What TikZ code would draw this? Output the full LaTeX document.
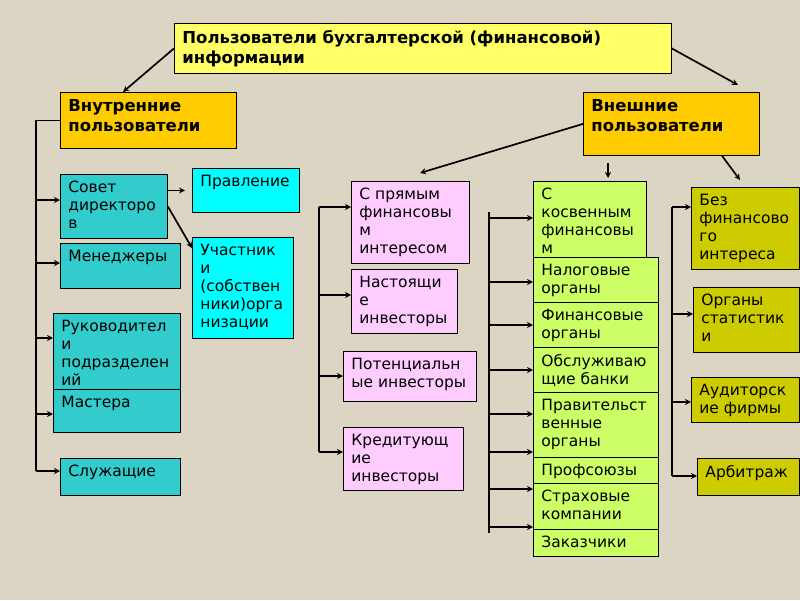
\documentclass[tikz,border=0pt]{standalone}
\usepackage{fontspec}
\setmainfont{DejaVu Sans}
\usetikzlibrary{arrows.meta, positioning}

\definecolor{bgbeige}{RGB}{221,213,196}
\definecolor{titleyellow}{RGB}{255,255,102}
\definecolor{usergold}{RGB}{255,204,0}
\definecolor{innerteal}{RGB}{51,204,204}
\definecolor{boardcyan}{RGB}{0,255,255}
\definecolor{directpink}{RGB}{255,204,255}
\definecolor{indirectgreen}{RGB}{204,255,102}
\definecolor{noolive}{RGB}{204,204,0}

% text block of a box: width, height, lines
\newcommand\cell[3]{\parbox[t][#2pt][t]{#1pt}{\raggedright #3}}

\tikzset{
  box/.style={draw, line width=0.8pt, anchor=north west, inner xsep=8pt, inner ysep=7pt,
    font=\fontsize{15.5}{18}\selectfont},
  head/.style={box, font=\fontsize{16.5}{20}\selectfont\bfseries},
  arr/.style={-{Stealth[length=6pt,width=6pt]}, line width=1.7pt},
  trunk/.style={line width=1.7pt}
}

\begin{document}
\begin{tikzpicture}[x=1pt, y=-1pt]
    \fill[bgbeige] (0,0) rectangle (800,600);
    \useasboundingbox (0,0) rectangle (800,600);

    % top level
    \node[head, fill=titleyellow] (title) at (174,23) {\cell{481}{36}{Пользователи бухгалтерской (финансовой)\\информации}};
    \node[head, fill=usergold] (vnutr) at (60,92) {\cell{160}{42}{Внутренние\\пользователи}};
    \node[head, fill=usergold] (vneshn) at (583,92) {\cell{160}{49}{Внешние\\пользователи}};

    % internal users
    \node[box, fill=innerteal] (sovet) at (60,174) {\cell{91}{50}{Совет\\директоро\\в}};
    \node[box, fill=innerteal] (menedzh) at (60,243) {\cell{104}{31}{Менеджеры}};
    \node[box, fill=innerteal] (rukov) at (53,313) {\cell{111}{62}{Руководител\\и\\подразделен\\ий}};
    \node[box, fill=innerteal] (mastera) at (53,389) {\cell{111}{29}{Мастера}};
    \node[box, fill=innerteal] (sluzh) at (60,458) {\cell{104}{23}{Служащие}};
    \node[box, fill=boardcyan] (pravl) at (192,168) {\cell{91}{30}{Правление}};
    \node[box, fill=boardcyan] (uchast) at (192,237) {\cell{85}{87}{Участник\\и\\(собствен\\ники)орга\\низации}};

    % direct interest
    \node[box, fill=directpink] (pryam) at (351,181) {\cell{102}{68}{С прямым\\финансовы\\м\\интересом}};
    \node[box, fill=directpink] (nastoy) at (351,269) {\cell{90}{50}{Настоящи\\е\\инвесторы}};
    \node[box, fill=directpink] (potenc) at (343,351) {\cell{117}{36}{Потенциальн\\ые инвесторы}};
    \node[box, fill=directpink] (kredit) at (343,427) {\cell{104}{49}{Кредитующ\\ие\\инвесторы}};

    % indirect interest
    \node[box, fill=indirectgreen] (kosv) at (533,181) {\cell{97}{62}{С\\косвенным\\финансовы\\м}};
    \node[box, fill=indirectgreen] (nalog) at (533,257) {\cell{109}{31}{Налоговые\\органы}};
    \node[box, fill=indirectgreen] (finorg) at (533,302) {\cell{109}{31}{Финансовые\\органы}};
    \node[box, fill=indirectgreen] (obsl) at (533,347) {\cell{109}{31}{Обслуживаю\\щие банки}};
    \node[box, fill=indirectgreen] (pravit) at (533,392) {\cell{109}{51}{Правительст\\венные\\органы}};
    \node[box, fill=indirectgreen] (profs) at (533,457) {\cell{109}{12}{Профсоюзы}};
    \node[box, fill=indirectgreen] (strah) at (533,483) {\cell{109}{32}{Страховые\\компании}};
    \node[box, fill=indirectgreen] (zakaz) at (533,529) {\cell{109}{13}{Заказчики}};

    % no financial interest
    \node[box, fill=noolive] (bez) at (691,187) {\cell{92}{68}{Без\\финансово\\го\\интереса}};
    \node[box, fill=noolive] (stat) at (693,287) {\cell{90}{51}{Органы\\статистик\\и}};
    \node[box, fill=noolive] (audit) at (691,377) {\cell{92}{31}{Аудиторск\\ие фирмы}};
    \node[box, fill=noolive] (arbit) at (697,458) {\cell{86}{23}{Арбитраж}};

    % arrows from the top
    \draw[arr] (title.west) -- ([xshift=63pt]vnutr.north west);
    \draw[arr] (title.east) -- ([xshift=155pt, yshift=7pt]vneshn.north west);
    \draw[arr] (vneshn.west) -- ([xshift=69pt, yshift=8pt]pryam.north west);
    \draw[arr] ([xshift=25pt, yshift=-7pt]vneshn.south west) -- ([xshift=75pt, yshift=3pt]kosv.north west);
    \draw[arr] ([xshift=139pt]vneshn.south west) -- ([xshift=49pt, yshift=7pt]bez.north west);
    \draw[arr] (sovet.east |- pravl.west) -- ([xshift=-7pt]pravl.west);
    \draw[arr] (sovet.east) -- ([yshift=-11pt]uchast.north west);

    % left trunk
    \coordinate (lend) at (36,471);
    \draw[trunk] (vnutr.west) -| (lend);
    \foreach \y/\n in {200/sovet, 263/menedzh, 338/rukov, 414/mastera, 471/sluzh}
        \draw[arr] (36,\y) -- (\n.west |- 0,\y);

    % pink trunk
    \coordinate (ptop) at (319,207);
    \coordinate (pbot) at (319,452);
    \draw[trunk] (ptop) -- (pbot);
    \foreach \y/\n in {207/pryam, 295/nastoy, 376/potenc, 452/kredit}
        \draw[arr] (319,\y) -- (\n.west |- 0,\y);

    % green trunk
    \coordinate (gtop) at (489,212);
    \coordinate (gbot) at (489,533);
    \draw[trunk] (gtop) -- (gbot);
    \foreach \y/\n in {218/kosv, 282/nalog, 325/finorg, 370/obsl, 414/pravit, 452/pravit, 489/strah, 527/strah}
        \draw[arr] (489,\y) -- (\n.west |- 0,\y);

    % olive trunk
    \coordinate (otop) at (672,207);
    \coordinate (obot) at (672,476);
    \draw[trunk] (otop) -- (obot);
    \foreach \y/\n in {207/bez, 314/stat, 402/audit, 476/arbit}
        \draw[arr] (672,\y) -- (\n.west |- 0,\y);
\end{tikzpicture}
\end{document}
